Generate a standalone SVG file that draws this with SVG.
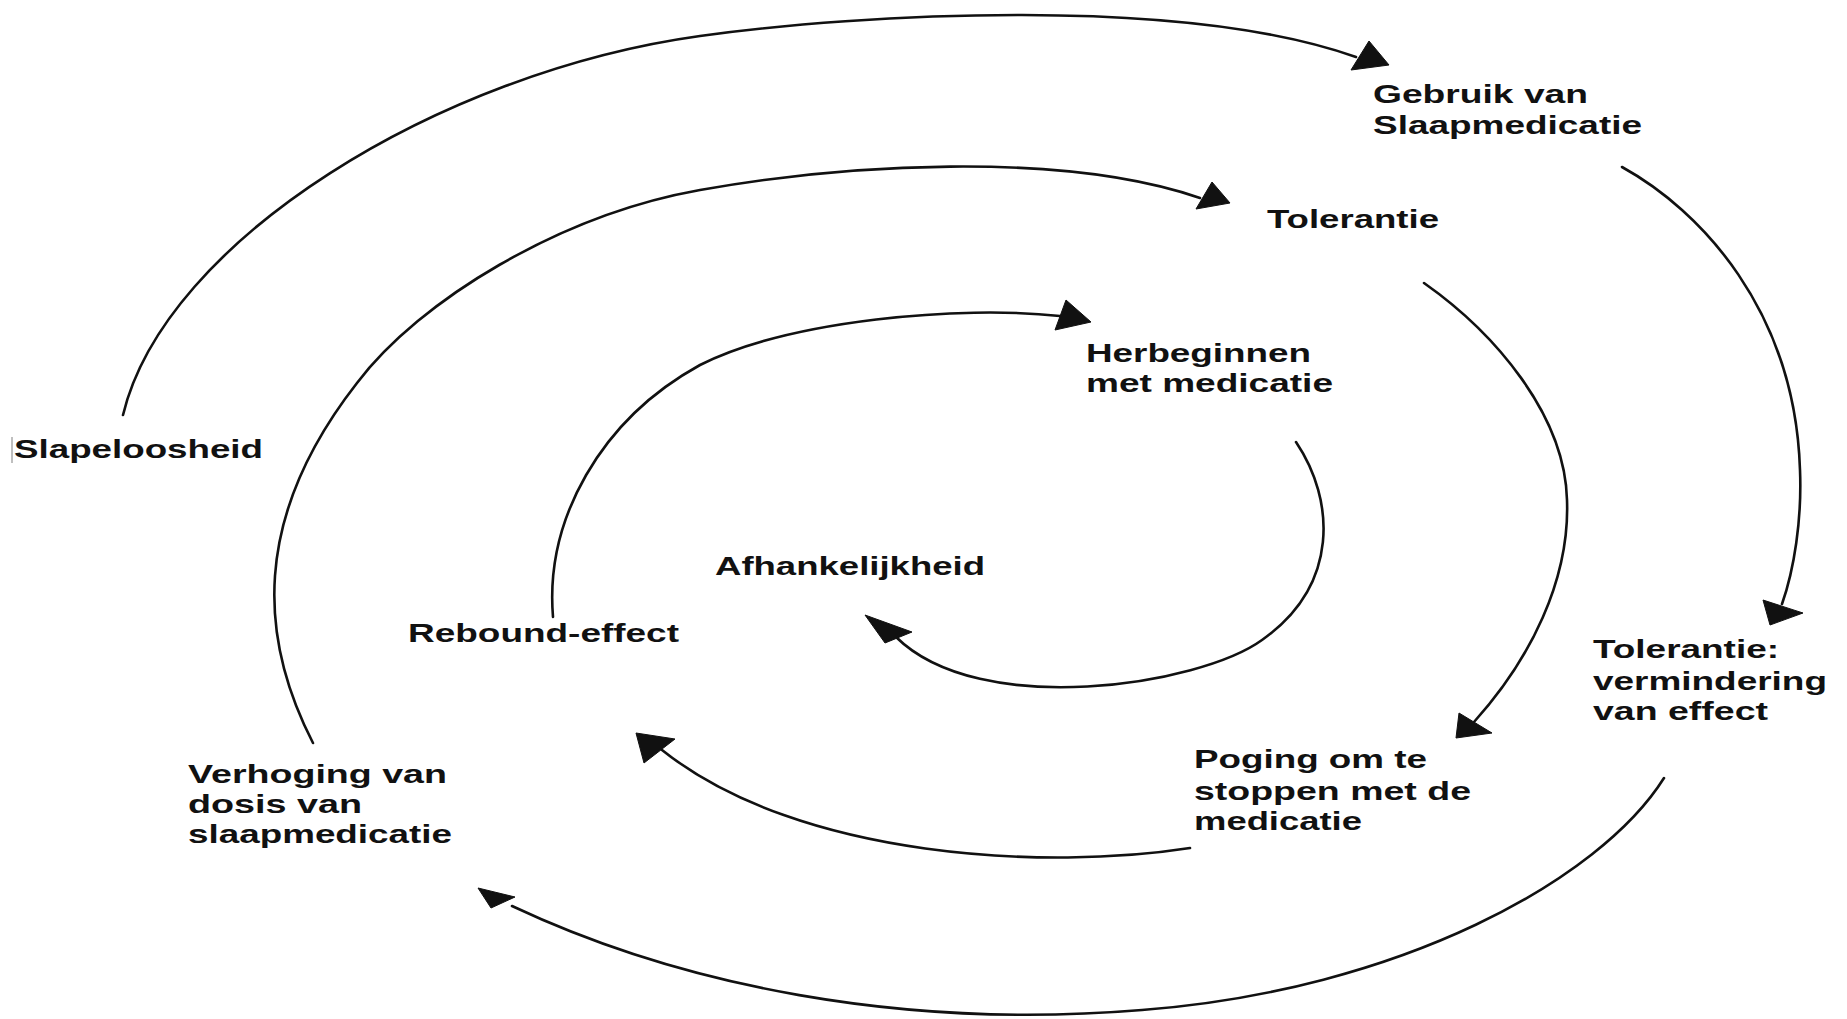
<svg xmlns="http://www.w3.org/2000/svg" width="1847" height="1019" viewBox="0 0 1847 1019">
  <style>
    .lbl { font-family: "Liberation Sans", Arial, sans-serif; font-weight: bold; font-size: 26px; fill: #111; }
    .arc { fill: none; stroke: #111; stroke-width: 2.6; stroke-linecap: round; }
    .head { fill: #111; stroke: #111; stroke-width: 1; stroke-linejoin: round; }
  </style>
  <rect width="1847" height="1019" fill="#fff"/>

  <!-- connectors: spiral arcs with their arrowheads -->
  <g id="connectors">
    <!-- outer ring -->
    <path class="arc" d="M123,415 C165,240 440,72 700,36 C860,14 1180,-5 1356,57"/>
    <polygon class="head" points="1389,65 1369,41 1351,70"/>
    <path class="arc" d="M1622,167 C1700,210 1795,310 1800,470 C1802,520 1794,570 1782,604"/>
    <polygon class="head" points="1763,600 1803,613 1770,625"/>
    <path class="arc" d="M1664,778 C1600,880 1400,990 1142,1010 C900,1030 680,985 512,906"/>
    <polygon class="head" points="478,888 515,897 491,908"/>
    <!-- middle ring -->
    <path class="arc" d="M313,743 C260,640 250,520 357,383 C420,300 560,215 700,190 C840,165 1060,150 1200,198"/>
    <polygon class="head" points="1212,182 1230,203 1196,209"/>
    <path class="arc" d="M1424,283 C1495,333 1565,415 1567,500 C1570,580 1530,660 1474,722"/>
    <polygon class="head" points="1459,713 1492,733 1456,738"/>
    <path class="arc" d="M1190,848 C1050,870 800,860 662,750"/>
    <polygon class="head" points="636,733 675,739 644,763"/>
    <!-- inner ring -->
    <path class="arc" d="M553,617 C545,520 600,420 700,365 C790,320 960,305 1060,316"/>
    <polygon class="head" points="1066,300 1091,322 1055,330"/>
    <path class="arc" d="M1296,442 C1335,500 1340,585 1262,640 C1200,685 980,720 896,637"/>
    <polygon class="head" points="865,615 912,632 885,643"/>
  </g>

  <g id="slapeloosheid">
    <line x1="12" y1="437" x2="12" y2="463" stroke="#aaa" stroke-width="1.5"/>
    <text class="lbl" x="14" y="458" textLength="249" lengthAdjust="spacingAndGlyphs">Slapeloosheid</text>
  </g>
  <g id="gebruik">
    <text class="lbl" x="1373" y="103" textLength="215" lengthAdjust="spacingAndGlyphs">Gebruik van</text>
    <text class="lbl" x="1373" y="134" textLength="269" lengthAdjust="spacingAndGlyphs">Slaapmedicatie</text>
  </g>
  <g id="tolerantie">
    <text class="lbl" x="1267" y="228" textLength="172" lengthAdjust="spacingAndGlyphs">Tolerantie</text>
  </g>
  <g id="herbeginnen">
    <text class="lbl" x="1086" y="362" textLength="225" lengthAdjust="spacingAndGlyphs">Herbeginnen</text>
    <text class="lbl" x="1086" y="392" textLength="247" lengthAdjust="spacingAndGlyphs">met medicatie</text>
  </g>
  <g id="afhankelijkheid">
    <text class="lbl" x="715" y="575" textLength="270" lengthAdjust="spacingAndGlyphs">Afhankelijkheid</text>
  </g>
  <g id="rebound">
    <text class="lbl" x="408" y="642" textLength="271" lengthAdjust="spacingAndGlyphs">Rebound-effect</text>
  </g>
  <g id="tolerantie-vermindering">
    <text class="lbl" x="1593" y="658" textLength="186" lengthAdjust="spacingAndGlyphs">Tolerantie:</text>
    <text class="lbl" x="1593" y="690" textLength="234" lengthAdjust="spacingAndGlyphs">vermindering</text>
    <text class="lbl" x="1593" y="720" textLength="175" lengthAdjust="spacingAndGlyphs">van effect</text>
  </g>
  <g id="poging">
    <text class="lbl" x="1194" y="768" textLength="233" lengthAdjust="spacingAndGlyphs">Poging om te</text>
    <text class="lbl" x="1194" y="800" textLength="277" lengthAdjust="spacingAndGlyphs">stoppen met de</text>
    <text class="lbl" x="1194" y="830" textLength="168" lengthAdjust="spacingAndGlyphs">medicatie</text>
  </g>
  <g id="verhoging">
    <text class="lbl" x="188" y="783" textLength="259" lengthAdjust="spacingAndGlyphs">Verhoging van</text>
    <text class="lbl" x="188" y="813" textLength="174" lengthAdjust="spacingAndGlyphs">dosis van</text>
    <text class="lbl" x="188" y="843" textLength="264" lengthAdjust="spacingAndGlyphs">slaapmedicatie</text>
  </g>
</svg>
